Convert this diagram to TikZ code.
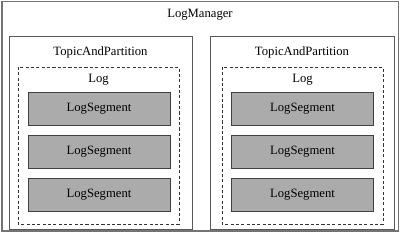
\documentclass[tikz,border=0pt]{standalone}
\usepackage{fontspec}
\setmainfont{Liberation Serif}
\usepackage{tikz}

\tikzset{
  label text/.style={font=\fontsize{9}{11}\selectfont, inner sep=0pt},
  segbox/.style={draw=black!75, fill=black!33, line width=0.6pt,
    minimum width=3.55cm, minimum height=0.825cm, inner sep=0pt,
    font=\fontsize{9}{11}\selectfont},
}

\begin{document}
\begin{tikzpicture}[x=0.025cm, y=-0.025cm]
  \useasboundingbox (0,0) rectangle (400,232);
  %% the manager frame
  \draw[black!55, line width=0.9pt] (2,1.5) rectangle (398.5,231);
  \node[label text] (manager) at (200,15) {LogManager};
  %% one partition per column: frame, dashed log, three segments
  \foreach \col/\tpl/\tpr/\lgl/\lgr/\sx in {l/9/192/18/179/99, r/210/394/222/383/302.5} {
    \draw[black!65, line width=0.6pt] (\tpl,36) rectangle (\tpr,229.5);
    \node[label text] (tp-\col) at ({(\tpl+\tpr)/2},52.5) {TopicAndPartition};
    \draw[black!80, line width=0.6pt, dash pattern=on 2.2pt off 1.6pt]
      (\lgl,67) rectangle (\lgr,224);
    \node[label text] (log-\col) at ({(\lgl+\lgr)/2},80) {Log};
    \foreach \y [count=\i] in {108.5, 151.5, 195}
      \node[segbox] (seg-\col-\i) at (\sx,\y) {LogSegment};
  }
\end{tikzpicture}
\end{document}
